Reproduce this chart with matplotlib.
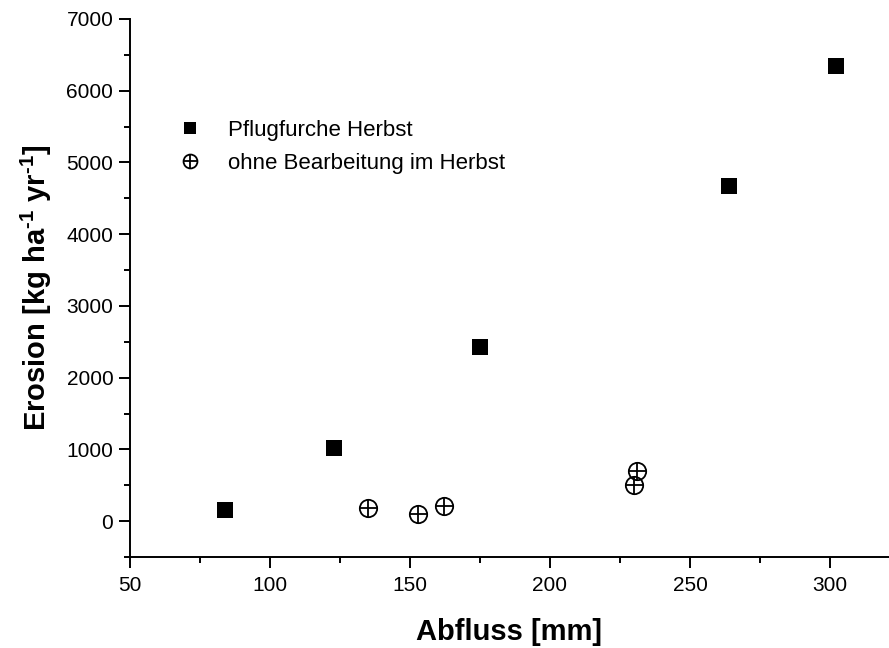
import matplotlib
matplotlib.use("Agg")
import matplotlib.pyplot as plt
from matplotlib.ticker import MultipleLocator
from matplotlib.legend_handler import HandlerTuple

plt.rcParams['font.family'] = ['Liberation Sans', 'DejaVu Sans']
plt.rcParams['mathtext.fontset'] = 'custom'
plt.rcParams['mathtext.rm'] = 'Liberation Sans'
plt.rcParams['mathtext.bf'] = 'Liberation Sans:bold'
plt.rcParams['mathtext.default'] = 'regular'

# Data
pflug_x = [84, 123, 175, 264, 302]
pflug_y = [150, 1020, 2430, 4670, 6350]
ohne_x = [135, 153, 162, 230, 231]
ohne_y = [190, 100, 210, 500, 700]

label_pflug = "Pflugfurche Herbst"
label_ohne = "ohne Bearbeitung im Herbst"
xlabel = "Abfluss [mm]"
ylabel = "Erosion [kg ha$^{\u2010 1}$ yr$^{\u2010 1}$]"

W, H = 889, 648
fig = plt.figure(figsize=(W / 100, H / 100), dpi=100)
ax = fig.add_axes([130 / W, 1 - 557 / H, 1 - 130 / W, (557 - 19) / H])

sq, = ax.plot(pflug_x, pflug_y, linestyle='none', marker='s', markersize=11.5,
              color='black', markeredgewidth=0)
circ, = ax.plot(ohne_x, ohne_y, linestyle='none', marker='o', markersize=12.5,
                markerfacecolor='none', markeredgecolor='black', markeredgewidth=1.3)
plus, = ax.plot(ohne_x, ohne_y, linestyle='none', marker='+', markersize=12.5,
                color='black', markeredgewidth=1.3)

ax.set_xlim(50, 50 + (W - 130) / 2.8)
ax.set_ylim(-500, 7000)

ax.xaxis.set_major_locator(MultipleLocator(50))
ax.xaxis.set_minor_locator(MultipleLocator(25))
ax.yaxis.set_major_locator(MultipleLocator(1000))
ax.yaxis.set_minor_locator(MultipleLocator(500))

for s in ['top', 'right']:
    ax.spines[s].set_visible(False)
for s in ['left', 'bottom']:
    ax.spines[s].set_linewidth(1.4)

ax.tick_params(which='major', direction='out', length=8, width=1.4, labelsize=15)
ax.tick_params(axis='y', which='major', pad=4)
ax.tick_params(axis='x', which='major', pad=6)
ax.tick_params(which='minor', direction='out', length=4.5, width=1.4)

ax.set_xlabel(xlabel, fontsize=21, fontweight='bold', labelpad=16)
ax.set_ylabel(ylabel, fontsize=21, fontweight='bold', labelpad=9)

leg = ax.legend([sq, (circ, plus)], [label_pflug, label_ohne],
                handler_map={tuple: HandlerTuple(ndivide=1)},
                loc='upper left', bbox_to_anchor=(181 / W, 1 - 120 / H),
                bbox_transform=fig.transFigure, frameon=False, fontsize=16,
                markerscale=0.8, handlelength=0.8, handletextpad=1.3,
                labelspacing=0.55, borderpad=0, borderaxespad=0)

fig.savefig("out.png", dpi=100)
